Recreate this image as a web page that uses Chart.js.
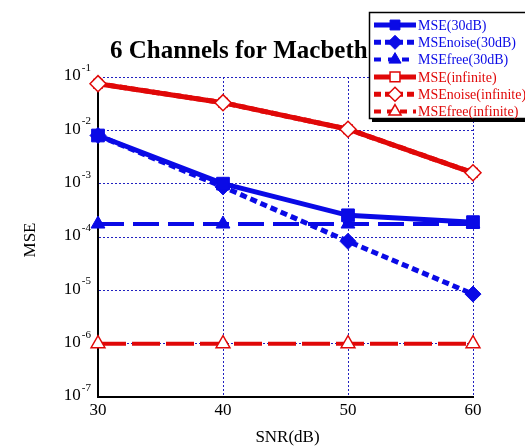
<!DOCTYPE html>
<html>
<head>
<meta charset="utf-8">
<script src="https://cdn.jsdelivr.net/npm/chart.js@4"></script>
<style>
html, body { margin: 0; padding: 0; background: #fff; }
#wrap { width: 525px; height: 448px; }
</style>
</head>
<body>
<div id="wrap"><canvas id="c"></canvas></div>
<script>
const snr = [30, 40, 50, 60];
const mse30 = [8.0e-3, 1.0e-3, 2.55e-4, 1.9e-4];
const mseNoise30 = [8.0e-3, 8.7e-4, 8.3e-5, 8.5e-6];
const mseFree30 = [1.75e-4, 1.75e-4, 1.75e-4, 1.75e-4];
const mseInf = [7.5e-2, 3.3e-2, 1.05e-2, 1.6e-3];
const mseNoiseInf = [7.5e-2, 3.3e-2, 1.05e-2, 1.6e-3];
const mseFreeInf = [1e-6, 1e-6, 1e-6, 1e-6];
const yExps = [-7, -6, -5, -4, -3, -2, -1];
const xTicks = [30, 40, 50, 60];

const BLUE = '#0a0ae6', RED = '#e00808';
const SERIF = '"Liberation Serif", "DejaVu Serif", serif';

const pts = arr => arr.map((v, i) => ({ x: snr[i], y: v }));

const datasets = [
  { label: 'MSE(30dB)', data: pts(mse30), borderColor: BLUE, backgroundColor: BLUE,
    borderWidth: 5, pointStyle: 'rect', pointRadius: 9, pointBorderWidth: 1, order: 3 },
  { label: 'MSEnoise(30dB)', data: pts(mseNoise30), borderColor: BLUE, backgroundColor: BLUE,
    borderWidth: 5, borderDash: [7, 4], pointStyle: 'rectRot', pointRadius: 8, pointBorderWidth: 1, order: 4 },
  { label: 'MSEfree(30dB)', data: pts(mseFree30), borderColor: BLUE, backgroundColor: BLUE,
    borderWidth: 4, borderDash: [26, 9], pointStyle: 'triangle', pointRadius: 8, pointBorderWidth: 1, order: 5 },
  { label: 'MSE(infinite)', data: pts(mseInf), borderColor: RED, backgroundColor: '#fff',
    borderWidth: 5, pointStyle: 'rect', pointRadius: 6, pointBorderWidth: 1.5, order: 2 },
  { label: 'MSEnoise(infinite)', data: pts(mseNoiseInf), borderColor: RED, backgroundColor: '#fff',
    borderWidth: 5, borderDash: [7, 4], pointStyle: 'rectRot', pointRadius: 8, pointBorderWidth: 1.5, order: 1 },
  { label: 'MSEfree(infinite)', data: pts(mseFreeInf), borderColor: RED, backgroundColor: '#fff',
    borderWidth: 4, borderDash: [28, 6], pointStyle: 'triangle', pointRadius: 8, pointBorderWidth: 1.5, order: 6 }
];

// titles, y tick labels with superscripts, and the boxed legend
const decor = {
  id: 'decor',
  afterDraw(chart) {
    const { ctx, scales: { x, y } } = chart;
    ctx.save();
    ctx.fillStyle = '#000';
    ctx.textBaseline = 'middle';
    // y tick labels: 10^n
    yExps.forEach(e => {
      const py = y.getPixelForValue(Math.pow(10, e));
      const sup = String(e);
      ctx.font = '11px ' + SERIF;
      const sw = ctx.measureText(sup).width;
      ctx.textAlign = 'left';
      ctx.fillText(sup, x.left - 7 - sw, py - 9);
      ctx.font = '17px ' + SERIF;
      ctx.textAlign = 'right';
      ctx.fillText('10', x.left - 8 - sw, py - 1);
    });
    // axis titles
    ctx.font = '17px ' + SERIF;
    ctx.textAlign = 'center';
    ctx.fillText('SNR(dB)', (x.left + x.right) / 2 + 2, 438);
    ctx.save();
    ctx.translate(31, (y.top + y.bottom) / 2 + 3);
    ctx.rotate(-Math.PI / 2);
    ctx.fillText('MSE', 0, 0);
    ctx.restore();
    // title
    ctx.font = 'bold 25px ' + SERIF;
    ctx.textAlign = 'left';
    ctx.fillText('6 Channels for Macbeth', 110, 52);

    // legend box
    const bx = 369, by = 12, bw = 160, bh = 106;
    ctx.fillStyle = '#fff';
    ctx.fillRect(bx, by, bw, bh);
    ctx.strokeStyle = '#000';
    ctx.lineWidth = 1.5;
    ctx.strokeRect(bx + 0.5, by + 0.5, bw, bh);
    ctx.fillStyle = '#000';
    ctx.fillRect(bx + 3, by + bh + 1, bw, 3);
    chart.data.datasets.forEach((ds, i) => {
      const cy = by + 13 + i * 17.3;
      ctx.save();
      ctx.strokeStyle = ds.borderColor;
      ctx.lineWidth = ds.borderWidth;
      ctx.setLineDash(ds.borderDash ? ds.borderDash.map(v => Math.min(v, 7)) : []);
      ctx.beginPath();
      ctx.moveTo(bx + 5, cy);
      ctx.lineTo(bx + 47, cy);
      ctx.stroke();
      ctx.restore();
      ctx.save();
      ctx.fillStyle = ds.backgroundColor;
      ctx.strokeStyle = ds.borderColor;
      ctx.lineWidth = ds.pointBorderWidth;
      Chart.helpers.drawPoint(ctx, { pointStyle: ds.pointStyle, radius: 7, borderWidth: ds.pointBorderWidth, rotation: 0 }, bx + 26, cy);
      ctx.restore();
      ctx.fillStyle = ds.borderColor;
      ctx.font = '14px ' + SERIF;
      ctx.textAlign = 'left';
      ctx.fillText(ds.label, bx + 49, cy + 1);
    });
    ctx.restore();
  }
};

new Chart(document.getElementById('c'), {
  type: 'line',
  data: { datasets },
  plugins: [decor],
  options: {
    responsive: true,
    maintainAspectRatio: false,
    animation: false,
    clip: false,
    layout: { padding: { left: 0, top: 77, right: 52, bottom: 0 } },
    plugins: { legend: { display: false }, title: { display: false }, tooltip: { enabled: false } },
    scales: {
      x: {
        type: 'linear', min: 30, max: 60,
        afterBuildTicks: s => { s.ticks = xTicks.map(v => ({ value: v })); },
        afterFit: s => { s.height = 51; },
        grid: { color: '#2020c0', lineWidth: 1, drawTicks: false },
        border: { display: true, color: '#000', width: 2, dash: [2, 2] },
        ticks: { color: '#000', font: { family: SERIF, size: 17 }, padding: 3, maxRotation: 0 }
      },
      y: {
        type: 'logarithmic', min: 1e-7, max: 1e-1,
        afterBuildTicks: s => { s.ticks = yExps.map(e => ({ value: Math.pow(10, e), major: true })); },
        afterFit: s => { s.width = 98; },
        grid: { color: '#2020c0', lineWidth: 1, drawTicks: false },
        border: { display: true, color: '#000', width: 2, dash: [2, 2] },
        ticks: { display: false }
      }
    }
  }
});
</script>
</body>
</html>
